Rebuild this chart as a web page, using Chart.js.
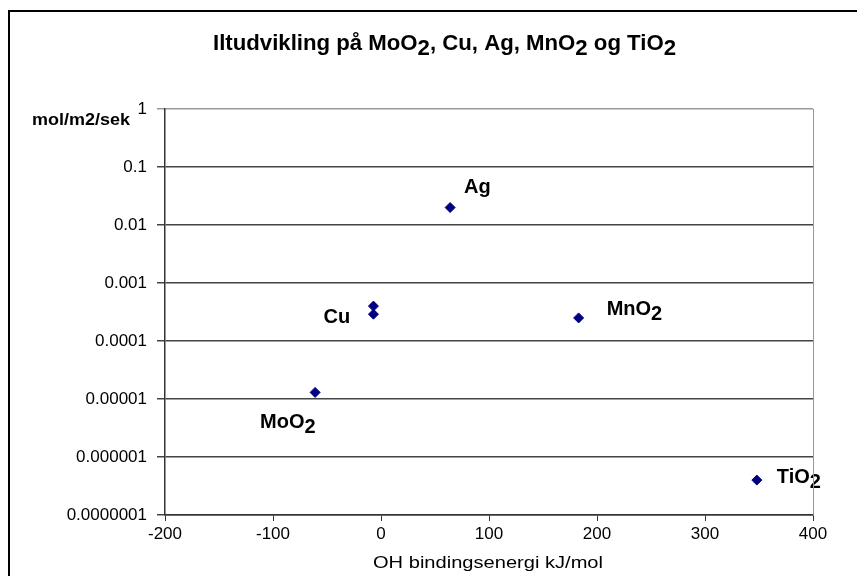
<!DOCTYPE html>
<html>
<head>
<meta charset="utf-8">
<script src="https://cdn.jsdelivr.net/npm/chart.js@4"></script>
<style>
  body { margin: 0; background: #fff; }
  #wrap { width: 857px; height: 576px; position: relative; }
</style>
</head>
<body>
<div id="wrap"><canvas id="oxygenChart" width="857" height="576"></canvas></div>
<script>
// data
const xValues = [-61, -7, -7, 64, 183, 348]
const yValues = [0.000013, 0.0004, 0.00029, 0.02, 0.00025, 0.0000004]
const pointNames = ['MoO2', '', 'Cu', 'Ag', 'MnO2', 'TiO2']
const xTicks = [-200, -100, 0, 100, 200, 300, 400]
const yTicks = [1, 0.1, 0.01, 0.001, 0.0001, 0.00001, 0.000001, 0.0000001]
const yTickLabels = ['1', '0.1', '0.01', '0.001', '0.0001', '0.00001', '0.000001', '0.0000001']

const titleText = 'Iltudvikling på MoO2, Cu, Ag, MnO2 og TiO2'
const yTitle = 'mol/m2/sek'
const xTitle = 'OH bindingsenergi kJ/mol'

// pixel offsets of each point label from its marker
const labelOffsets = {
  MoO2: [-55, 30],
  Cu: [-50, 3],
  Ag: [14, -20],
  MnO2: [28, -8],
  TiO2: [20, -3]
}

const FONT = '"Liberation Sans", Arial, sans-serif'

// draws text where a "2" after "O" is shifted down like a subscript
function drawChem(ctx, text, x, y) {
  const parts = text.split(/(O2)/)
  let cx = x
  parts.forEach(part => {
    if (part === 'O2') {
      ctx.fillText('O', cx, y)
      cx += ctx.measureText('O').width
      ctx.fillText('2', cx, y + 5)
      cx += ctx.measureText('2').width
    } else if (part) {
      ctx.fillText(part, cx, y)
      cx += ctx.measureText(part).width
    }
  })
  return cx - x
}

// text stretched sideways to a target width (the source font runs wide)
function fitText(ctx, text, x, y, width, chem) {
  const w = ctx.measureText(text).width
  ctx.save()
  ctx.translate(x, y)
  ctx.scale(width / w, 1)
  if (chem) drawChem(ctx, text, 0, 0)
  else ctx.fillText(text, 0, 0)
  ctx.restore()
}

const decorPlugin = {
  id: 'decor',
  afterDatasetsDraw(chart) {
    const ctx = chart.ctx
    const meta = chart.getDatasetMeta(0)
    ctx.save()
    ctx.fillStyle = '#000'
    ctx.font = 'bold 20px ' + FONT
    ctx.textBaseline = 'middle'
    ctx.textAlign = 'left'
    meta.data.forEach((pt, i) => {
      const name = pointNames[i]
      if (!name) return
      const off = labelOffsets[name]
      drawChem(ctx, name, pt.x + off[0], pt.y + off[1])
    })
    ctx.restore()
  },
  afterDraw(chart) {
    const ctx = chart.ctx
    const area = chart.chartArea
    ctx.save()
    // right border of plot area
    ctx.strokeStyle = '#999'
    ctx.lineWidth = 1
    ctx.beginPath()
    ctx.moveTo(Math.round(area.right) + 0.5, area.top)
    ctx.lineTo(Math.round(area.right) + 0.5, area.bottom)
    ctx.stroke()

    // outer chart border
    ctx.strokeStyle = '#000'
    ctx.lineWidth = 2
    ctx.strokeRect(9, 11, 900, 600)

    ctx.fillStyle = '#000'
    ctx.textBaseline = 'middle'
    ctx.textAlign = 'left'

    // title
    ctx.font = 'bold 22px ' + FONT
    fitText(ctx, titleText, 213, 44, 463, true)

    // y axis title
    ctx.font = 'bold 16px ' + FONT
    fitText(ctx, yTitle, 32, 121, 98, false)

    // x axis title
    ctx.font = '17px ' + FONT
    fitText(ctx, xTitle, 373, 563, 230, false)
    ctx.restore()
  }
}

new Chart(document.getElementById('oxygenChart'), {
  type: 'scatter',
  data: {
    datasets: [{
      data: xValues.map((x, i) => ({ x: x, y: yValues[i] })),
      pointStyle: 'rectRot',
      pointRadius: 5,
      pointHoverRadius: 5,
      backgroundColor: '#000080',
      borderColor: '#000080',
      borderWidth: 1
    }]
  },
  options: {
    responsive: false,
    animation: false,
    layout: { padding: { left: 0, top: 109, right: 44, bottom: 0 } },
    plugins: {
      legend: { display: false },
      tooltip: { enabled: false }
    },
    scales: {
      x: {
        type: 'linear',
        min: -200,
        max: 400,
        afterBuildTicks: scale => { scale.ticks = xTicks.map(v => ({ value: v })) },
        afterFit: scale => { scale.height = 61 },
        ticks: {
          callback: value => String(value),
          color: '#000',
          font: { family: FONT, size: 17 },
          padding: 3,
          maxRotation: 0
        },
        grid: {
          drawOnChartArea: false,
          drawTicks: true,
          tickLength: 6,
          color: '#333'
        },
        border: { color: '#333', width: 1.5 }
      },
      y: {
        type: 'logarithmic',
        min: 0.0000001,
        max: 1,
        afterBuildTicks: scale => { scale.ticks = yTicks.map(v => ({ value: v })) },
        afterFit: scale => { scale.width = 165 },
        ticks: {
          callback: value => yTickLabels[yTicks.indexOf(value)],
          color: '#000',
          font: { family: FONT, size: 17 },
          padding: 10
        },
        grid: {
          color: ctx => ctx.tick && ctx.tick.value === 1 ? '#999' : '#444',
          lineWidth: 1.5,
          tickLength: 8
        },
        border: { color: '#333', width: 1.5 }
      }
    }
  },
  plugins: [decorPlugin]
})
</script>
</body>
</html>
